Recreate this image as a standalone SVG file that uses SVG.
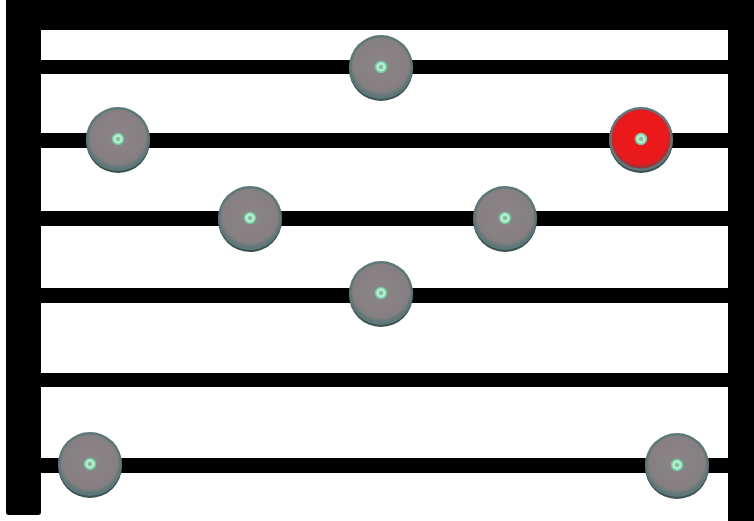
<svg xmlns="http://www.w3.org/2000/svg" width="754" height="521" viewBox="0 0 754 521">
<defs>
<radialGradient id="gray" cx="0.5" cy="0.45" r="0.55">
<stop offset="0" stop-color="#8c8587"/>
<stop offset="0.85" stop-color="#857f82"/>
<stop offset="1" stop-color="#5f7675"/>
</radialGradient>
<radialGradient id="red" cx="0.5" cy="0.45" r="0.55">
<stop offset="0" stop-color="#f01818"/>
<stop offset="0.85" stop-color="#e81a1e"/>
<stop offset="1" stop-color="#8a3a3a"/>
</radialGradient>
</defs>
<style>
.bar{fill:#000}
.rim{fill:#5d7878}
.shadow{fill:#3c5050}
.hub{fill:#b5f0cc;stroke:#6fc9a4;stroke-width:1.5}
.hubc{fill:#8fb8a6}
</style>
<rect width="754" height="521" fill="#fff"/>
<g id="frame">
<rect class="bar" x="6" y="0" width="748" height="30"/>
<rect class="bar" x="6" y="0" width="35" height="515" rx="3"/>
<rect class="bar" x="728" y="0" width="26" height="521"/>
<rect class="bar" x="41" y="60" width="687" height="14"/>
<rect class="bar" x="41" y="133" width="687" height="15"/>
<rect class="bar" x="41" y="211" width="687" height="15"/>
<rect class="bar" x="41" y="288" width="687" height="15"/>
<rect class="bar" x="41" y="373" width="687" height="14"/>
<rect class="bar" x="41" y="458" width="687" height="15"/>
</g>
<g id="disc1" transform="translate(381,67)"><circle class="shadow" cx="0" cy="2" r="32"/><circle class="rim" r="32"/><circle r="29.5" fill="url(#gray)"/><circle class="hub" r="5.5"/><circle class="hubc" r="2.2"/></g>
<g id="disc2" transform="translate(118,139)"><circle class="shadow" cx="0" cy="2" r="32"/><circle class="rim" r="32"/><circle r="29.5" fill="url(#gray)"/><circle class="hub" r="5.5"/><circle class="hubc" r="2.2"/></g>
<g id="disc3" transform="translate(641,139)"><circle class="shadow" cx="0" cy="2" r="32"/><circle class="rim" r="32"/><circle r="29.5" fill="url(#red)"/><circle class="hub" r="5.5"/><circle class="hubc" r="2.2"/></g>
<g id="disc4" transform="translate(250,218)"><circle class="shadow" cx="0" cy="2" r="32"/><circle class="rim" r="32"/><circle r="29.5" fill="url(#gray)"/><circle class="hub" r="5.5"/><circle class="hubc" r="2.2"/></g>
<g id="disc5" transform="translate(505,218)"><circle class="shadow" cx="0" cy="2" r="32"/><circle class="rim" r="32"/><circle r="29.5" fill="url(#gray)"/><circle class="hub" r="5.5"/><circle class="hubc" r="2.2"/></g>
<g id="disc6" transform="translate(381,293)"><circle class="shadow" cx="0" cy="2" r="32"/><circle class="rim" r="32"/><circle r="29.5" fill="url(#gray)"/><circle class="hub" r="5.5"/><circle class="hubc" r="2.2"/></g>
<g id="disc7" transform="translate(90,464)"><circle class="shadow" cx="0" cy="2" r="32"/><circle class="rim" r="32"/><circle r="29.5" fill="url(#gray)"/><circle class="hub" r="5.5"/><circle class="hubc" r="2.2"/></g>
<g id="disc8" transform="translate(677,465)"><circle class="shadow" cx="0" cy="2" r="32"/><circle class="rim" r="32"/><circle r="29.5" fill="url(#gray)"/><circle class="hub" r="5.5"/><circle class="hubc" r="2.2"/></g>
<g id="connectors"/>
</svg>
